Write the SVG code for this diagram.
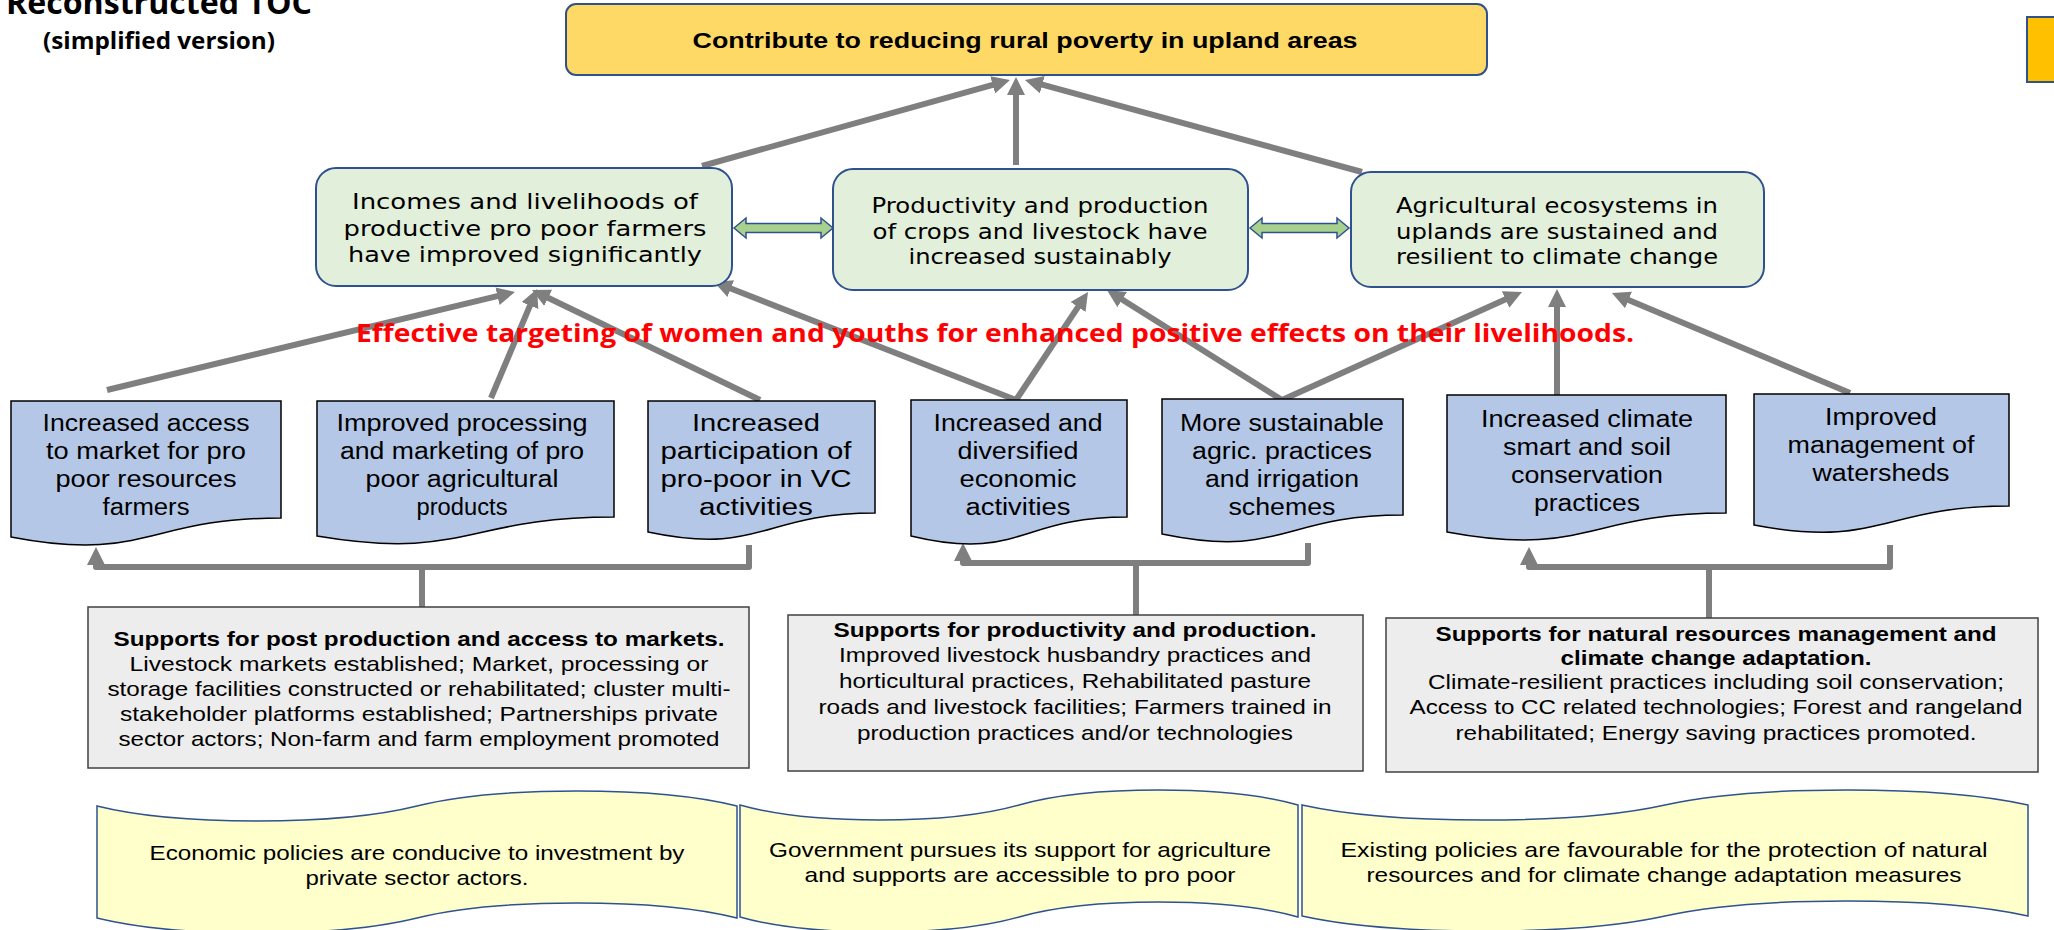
<svg xmlns="http://www.w3.org/2000/svg" width="2054" height="930" viewBox="0 0 2054 930">
<style>
.doc{fill:#B4C7E7;stroke:#000;stroke-width:1.5}
.out{fill:#E2EFDA;stroke:#2F528F;stroke-width:2}
.sup{fill:#EDEDED;stroke:#404040;stroke-width:1.5}
.ban{fill:#FFFFCC;stroke:#2F528F;stroke-width:1.5}
.dbl{fill:#A9D18E;stroke:#2F528F;stroke-width:1.5}
.arr{stroke:#7F7F7F;stroke-width:6;fill:none;marker-end:url(#ah)}
.brk{stroke:#7F7F7F;stroke-width:6;fill:none;stroke-linejoin:round}
.stem{stroke:#7F7F7F;stroke-width:6;fill:none}
text{text-anchor:middle;fill:#000}
.ttl{font-family:"Open Sans","Liberation Sans",sans-serif;font-weight:bold}
.gt{font-family:"Liberation Sans",Arial,sans-serif;font-weight:bold;font-size:22px}
.ot{font-family:"DejaVu Sans",Verdana,sans-serif;font-size:22px}
.dt{font-family:"Liberation Sans",Arial,sans-serif;font-size:23px}
.st{font-family:"Liberation Sans",Arial,sans-serif;font-size:21px}
.sb{font-weight:bold}
.bt{font-family:"Liberation Sans",Arial,sans-serif;font-size:21px}
.red{font-family:"Open Sans","Liberation Sans",sans-serif;font-weight:bold;font-size:25px;fill:#FF0000}
</style>
<defs>
<marker id="ah" markerUnits="userSpaceOnUse" markerWidth="18" markerHeight="18" viewBox="0 0 18 18" refX="2" refY="9" orient="auto">
<path d="M0,0 L18,9 L0,18 Z" fill="#7F7F7F"/>
</marker>
</defs>

<g id="title">
<text class="ttl" x="159" y="14" font-size="32" textLength="306" lengthAdjust="spacingAndGlyphs">Reconstructed TOC</text>
<text class="ttl" x="159" y="49" font-size="23" textLength="232" lengthAdjust="spacingAndGlyphs">(simplified version)</text>
</g>

<g id="corner-mark">
<rect x="2027" y="17" width="40" height="65" fill="#FFC000" stroke="#2F528F" stroke-width="2"/>
</g>

<g id="connectors">
<path class="arr" d="M702,166 L994.6,84.3"/>
<path class="arr" d="M1016,165 L1016,93"/>
<path class="arr" d="M1362,172 L1040.4,84.2"/>
<path class="arr" d="M107,390 L499.4,295.7"/>
<path class="arr" d="M491,398 L530.8,303.7"/>
<path class="arr" d="M760,400 L546.4,297"/>
<path class="arr" d="M1016,400 L728.9,287.8"/>
<path class="arr" d="M1016,400 L1079.1,305.3"/>
<path class="arr" d="M1282,400 L1120.5,298.5"/>
<path class="arr" d="M1282,400 L1507.4,298.6"/>
<path class="arr" d="M1557,396 L1557,305"/>
<path class="arr" d="M1850,393 L1626.7,299.2"/>
<path class="brk" d="M749,545 V567 H96 V563" marker-end="url(#ah)"/>
<path class="stem" d="M422,567 V607"/>
<path class="brk" d="M1308,543 V563 H963 V559" marker-end="url(#ah)"/>
<path class="stem" d="M1136,563 V615"/>
<path class="brk" d="M1890,545 V567 H1529 V563" marker-end="url(#ah)"/>
<path class="stem" d="M1709,567 V618"/>
<polygon class="dbl" points="734,228 746,218 746,223.5 821,223.5 821,218 833,228 821,238 821,232.5 746,232.5 746,238"/>
<polygon class="dbl" points="1250,228 1262,218 1262,223.5 1337,223.5 1337,218 1349,228 1337,238 1337,232.5 1262,232.5 1262,238"/>
</g>

<g id="goal">
<rect x="566" y="4" width="921" height="71" rx="10" fill="#FFD966" stroke="#2F528F" stroke-width="2"/>
<text class="gt" x="1025" y="48" textLength="665" lengthAdjust="spacingAndGlyphs">Contribute to reducing rural poverty in upland areas</text>
</g>

<g id="outcome1">
<rect class="out" x="316" y="168" width="416" height="118" rx="20"/>
<text class="ot" x="525" y="209" textLength="346" lengthAdjust="spacingAndGlyphs">Incomes and livelihoods of</text>
<text class="ot" x="525" y="236" textLength="363" lengthAdjust="spacingAndGlyphs">productive pro poor farmers</text>
<text class="ot" x="525" y="262" textLength="354" lengthAdjust="spacingAndGlyphs">have improved significantly</text>
</g>
<g id="outcome2">
<rect class="out" x="833" y="169" width="415" height="121" rx="20"/>
<text class="ot" x="1040" y="213" textLength="337" lengthAdjust="spacingAndGlyphs">Productivity and production</text>
<text class="ot" x="1040" y="239" textLength="335" lengthAdjust="spacingAndGlyphs">of crops and livestock have</text>
<text class="ot" x="1040" y="264" textLength="263" lengthAdjust="spacingAndGlyphs">increased sustainably</text>
</g>
<g id="outcome3">
<rect class="out" x="1351" y="172" width="413" height="115" rx="20"/>
<text class="ot" x="1557" y="213" textLength="322" lengthAdjust="spacingAndGlyphs">Agricultural ecosystems in</text>
<text class="ot" x="1557" y="239" textLength="322" lengthAdjust="spacingAndGlyphs">uplands are sustained and</text>
<text class="ot" x="1557" y="264" textLength="322" lengthAdjust="spacingAndGlyphs">resilient to climate change</text>
</g>

<g id="docA">
<path class="doc" d="M11,401 H281 V518 C146,518 146,563 11,537 Z"/>
<text class="dt" x="146" y="431" textLength="207" lengthAdjust="spacingAndGlyphs">Increased access</text>
<text class="dt" x="146" y="459" textLength="200" lengthAdjust="spacingAndGlyphs">to market for pro</text>
<text class="dt" x="146" y="487" textLength="181" lengthAdjust="spacingAndGlyphs">poor resources</text>
<text class="dt" x="146" y="515" textLength="87" lengthAdjust="spacingAndGlyphs">farmers</text>
</g>
<g id="docB">
<path class="doc" d="M317,401 H614 V517 C465.5,517 465.5,561 317,536 Z"/>
<text class="dt" x="462" y="431" textLength="251" lengthAdjust="spacingAndGlyphs">Improved processing</text>
<text class="dt" x="462" y="459" textLength="244" lengthAdjust="spacingAndGlyphs">and marketing of pro</text>
<text class="dt" x="462" y="487" textLength="193" lengthAdjust="spacingAndGlyphs">poor agricultural</text>
<text class="dt" x="462" y="515" textLength="91" lengthAdjust="spacingAndGlyphs">products</text>
</g>
<g id="docC">
<path class="doc" d="M648,401 H875 V513 C761.5,513 761.5,556 648,532 Z"/>
<text class="dt" x="756" y="431" textLength="128" lengthAdjust="spacingAndGlyphs">Increased</text>
<text class="dt" x="756" y="459" textLength="191" lengthAdjust="spacingAndGlyphs">participation of</text>
<text class="dt" x="756" y="487" textLength="191" lengthAdjust="spacingAndGlyphs">pro-poor in VC</text>
<text class="dt" x="756" y="515" textLength="114" lengthAdjust="spacingAndGlyphs">activities</text>
</g>
<g id="docD">
<path class="doc" d="M911,400 H1127 V517 C1019,517 1019,562 911,536 Z"/>
<text class="dt" x="1018" y="431" textLength="169" lengthAdjust="spacingAndGlyphs">Increased and</text>
<text class="dt" x="1018" y="459" textLength="121" lengthAdjust="spacingAndGlyphs">diversified</text>
<text class="dt" x="1018" y="487" textLength="117" lengthAdjust="spacingAndGlyphs">economic</text>
<text class="dt" x="1018" y="515" textLength="105" lengthAdjust="spacingAndGlyphs">activities</text>
</g>
<g id="docE">
<path class="doc" d="M1162,399 H1403 V515 C1282.5,515 1282.5,559 1162,534 Z"/>
<text class="dt" x="1282" y="431" textLength="204" lengthAdjust="spacingAndGlyphs">More sustainable</text>
<text class="dt" x="1282" y="459" textLength="180" lengthAdjust="spacingAndGlyphs">agric. practices</text>
<text class="dt" x="1282" y="487" textLength="154" lengthAdjust="spacingAndGlyphs">and irrigation</text>
<text class="dt" x="1282" y="515" textLength="107" lengthAdjust="spacingAndGlyphs">schemes</text>
</g>
<g id="docF">
<path class="doc" d="M1447,395 H1726 V513 C1586.5,513 1586.5,558 1447,532 Z"/>
<text class="dt" x="1587" y="427" textLength="212" lengthAdjust="spacingAndGlyphs">Increased climate</text>
<text class="dt" x="1587" y="455" textLength="168" lengthAdjust="spacingAndGlyphs">smart and soil</text>
<text class="dt" x="1587" y="483" textLength="152" lengthAdjust="spacingAndGlyphs">conservation</text>
<text class="dt" x="1587" y="511" textLength="106" lengthAdjust="spacingAndGlyphs">practices</text>
</g>
<g id="docG">
<path class="doc" d="M1754,394 H2009 V506 C1881.5,506 1881.5,549 1754,525 Z"/>
<text class="dt" x="1881" y="425" textLength="112" lengthAdjust="spacingAndGlyphs">Improved</text>
<text class="dt" x="1881" y="453" textLength="187" lengthAdjust="spacingAndGlyphs">management of</text>
<text class="dt" x="1881" y="481" textLength="137" lengthAdjust="spacingAndGlyphs">watersheds</text>
</g>

<g id="support1">
<rect class="sup" x="88" y="607" width="661" height="161"/>
<text class="st sb" x="419" y="646" textLength="611" lengthAdjust="spacingAndGlyphs">Supports for post production and access to markets.</text>
<text class="st" x="419" y="671" textLength="579" lengthAdjust="spacingAndGlyphs">Livestock markets established; Market, processing or</text>
<text class="st" x="419" y="696" textLength="623" lengthAdjust="spacingAndGlyphs">storage facilities constructed or rehabilitated; cluster multi-</text>
<text class="st" x="419" y="721" textLength="598" lengthAdjust="spacingAndGlyphs">stakeholder platforms established; Partnerships private</text>
<text class="st" x="419" y="746" textLength="601" lengthAdjust="spacingAndGlyphs">sector actors; Non-farm and farm employment promoted</text>
</g>
<g id="support2">
<rect class="sup" x="788" y="615" width="575" height="156"/>
<text class="st sb" x="1075" y="637" textLength="483" lengthAdjust="spacingAndGlyphs">Supports for productivity and production.</text>
<text class="st" x="1075" y="662" textLength="472" lengthAdjust="spacingAndGlyphs">Improved livestock husbandry practices and</text>
<text class="st" x="1075" y="688" textLength="472" lengthAdjust="spacingAndGlyphs">horticultural practices, Rehabilitated pasture</text>
<text class="st" x="1075" y="714" textLength="513" lengthAdjust="spacingAndGlyphs">roads and livestock facilities; Farmers trained in</text>
<text class="st" x="1075" y="740" textLength="436" lengthAdjust="spacingAndGlyphs">production practices and/or technologies</text>
</g>
<g id="support3">
<rect class="sup" x="1386" y="618" width="652" height="154"/>
<text class="st sb" x="1716" y="641" textLength="561" lengthAdjust="spacingAndGlyphs">Supports for natural resources management and</text>
<text class="st sb" x="1716" y="665" textLength="311" lengthAdjust="spacingAndGlyphs">climate change adaptation.</text>
<text class="st" x="1716" y="689" textLength="576" lengthAdjust="spacingAndGlyphs">Climate-resilient practices including soil conservation;</text>
<text class="st" x="1716" y="714" textLength="613" lengthAdjust="spacingAndGlyphs">Access to CC related technologies; Forest and rangeland</text>
<text class="st" x="1716" y="740" textLength="521" lengthAdjust="spacingAndGlyphs">rehabilitated; Energy saving practices promoted.</text>
</g>

<g id="assumption1">
<path class="ban" d="M97,806 C177,826 337,826 417,806 C497,786 657,786 737,806 V918 C657,898 497,898 417,918 C337,938 177,938 97,918 Z"/>
<text class="bt" x="417" y="860" textLength="535" lengthAdjust="spacingAndGlyphs">Economic policies are conducive to investment by</text>
<text class="bt" x="417" y="885" textLength="223" lengthAdjust="spacingAndGlyphs">private sector actors.</text>
</g>
<g id="assumption2">
<path class="ban" d="M740,805 C810,825 949,825 1019,805 C1089,785 1228,785 1298,805 V917 C1228,897 1089,897 1019,917 C949,937 810,937 740,917 Z"/>
<text class="bt" x="1020" y="857" textLength="502" lengthAdjust="spacingAndGlyphs">Government pursues its support for agriculture</text>
<text class="bt" x="1020" y="882" textLength="431" lengthAdjust="spacingAndGlyphs">and supports are accessible to pro poor</text>
</g>
<g id="assumption3">
<path class="ban" d="M1302,805 C1392,825 1575,825 1665,805 C1755,785 1938,785 2028,805 V916 C1938,896 1755,896 1665,916 C1575,936 1392,936 1302,916 Z"/>
<text class="bt" x="1664" y="857" textLength="647" lengthAdjust="spacingAndGlyphs">Existing policies are favourable for the protection of natural</text>
<text class="bt" x="1664" y="882" textLength="595" lengthAdjust="spacingAndGlyphs">resources and for climate change adaptation measures</text>
</g>

<g id="cross-cutting">
<text class="red" x="995" y="342" textLength="1278" lengthAdjust="spacingAndGlyphs">Effective targeting of women and youths for enhanced positive effects on their livelihoods.</text>
</g>
</svg>
